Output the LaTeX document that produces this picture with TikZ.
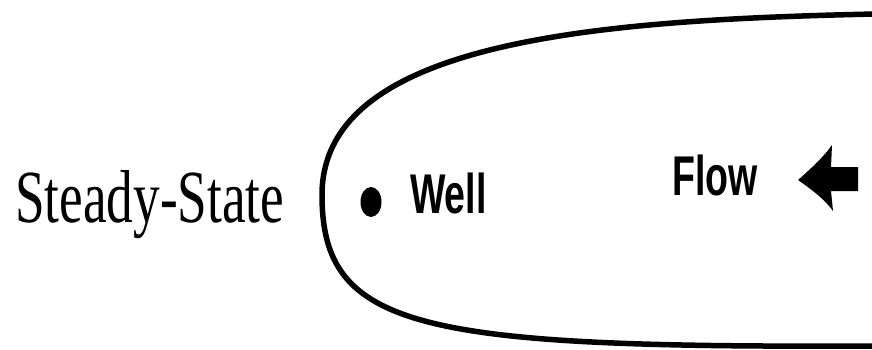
\documentclass[tikz,border=0pt]{standalone}
\usepackage{fontspec}
\setmainfont{Liberation Serif}
\newfontfamily\labelfont{Liberation Sans}
\begin{document}
\begin{tikzpicture}[x=1pt, y=-1pt,
    zone/.style={line width=5.5pt, line cap=round},
    title/.style={font=\fontsize{75}{80}\selectfont, xscale=0.71, transform shape, inner sep=0pt, anchor=base west},
    tag/.style={font=\labelfont\bfseries\fontsize{56}{60}\selectfont, xscale=0.67, transform shape, inner sep=0pt, anchor=base west},
    every node/.style={}
]
    \useasboundingbox (0,0) rectangle (872,350);

    % capture zone
    \draw[zone] (875,14) .. controls (600,20) and (322,40) .. (322,195)
                .. controls (322,330) and (420,348) .. (875,346);

    % labels
    \node[title] (steady) at (15,222) {Steady-State};
    \node[tag] (well) at (410,213) {Well};
    \node[tag] (flow) at (672,195) {Flow};

    % well and flow direction
    \fill (371,202) ellipse (10.5 and 15);
    \coordinate (tip) at (798,180);
    \fill (tip) .. controls (815,165) and (825,155) .. (832,145) -- (831,167) -- (858,167)
          -- (858,191) -- (831,191) -- (833,211) .. controls (825,200) and (815,192) .. (tip) -- cycle;
\end{tikzpicture}
\end{document}
